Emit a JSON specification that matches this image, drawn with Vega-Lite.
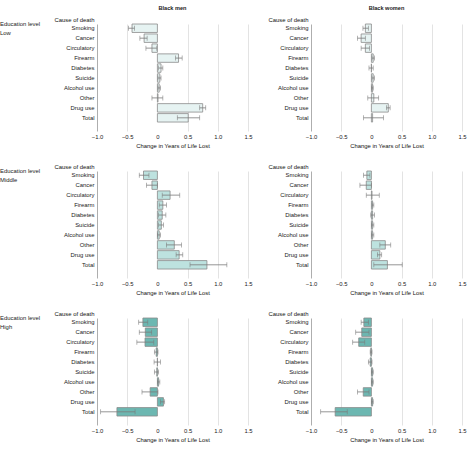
{
  "$schema": "https://vega.github.io/schema/vega-lite/v6.json",
  "padding": {"left": 0, "top": 6, "right": 0, "bottom": 0},
  "background": "white",
  "data": {"values": [
    {"edu":"Low","sex":"Black men","cause":"Smoking","v":-0.42,"lo":-0.48,"hi":-0.38},
    {"edu":"Low","sex":"Black men","cause":"Cancer","v":-0.22,"lo":-0.29,"hi":-0.17},
    {"edu":"Low","sex":"Black men","cause":"Circulatory","v":-0.09,"lo":-0.19,"hi":-0.01},
    {"edu":"Low","sex":"Black men","cause":"Firearm","v":0.35,"lo":0.30,"hi":0.41},
    {"edu":"Low","sex":"Black men","cause":"Diabetes","v":0.06,"lo":0.02,"hi":0.09},
    {"edu":"Low","sex":"Black men","cause":"Suicide","v":0.04,"lo":0.01,"hi":0.06},
    {"edu":"Low","sex":"Black men","cause":"Alcohol use","v":0.03,"lo":0.01,"hi":0.05},
    {"edu":"Low","sex":"Black men","cause":"Other","v":0.01,"lo":-0.09,"hi":0.09},
    {"edu":"Low","sex":"Black men","cause":"Drug use","v":0.75,"lo":0.70,"hi":0.80},
    {"edu":"Low","sex":"Black men","cause":"Total","v":0.51,"lo":0.33,"hi":0.70},
    {"edu":"Low","sex":"Black women","cause":"Smoking","v":-0.10,"lo":-0.14,"hi":-0.05},
    {"edu":"Low","sex":"Black women","cause":"Cancer","v":-0.17,"lo":-0.23,"hi":-0.10},
    {"edu":"Low","sex":"Black women","cause":"Circulatory","v":-0.10,"lo":-0.17,"hi":-0.03},
    {"edu":"Low","sex":"Black women","cause":"Firearm","v":0.03,"lo":0.01,"hi":0.05},
    {"edu":"Low","sex":"Black women","cause":"Diabetes","v":0.0,"lo":-0.04,"hi":0.03},
    {"edu":"Low","sex":"Black women","cause":"Suicide","v":0.03,"lo":0.01,"hi":0.05},
    {"edu":"Low","sex":"Black women","cause":"Alcohol use","v":0.02,"lo":0.0,"hi":0.03},
    {"edu":"Low","sex":"Black women","cause":"Other","v":0.04,"lo":-0.06,"hi":0.12},
    {"edu":"Low","sex":"Black women","cause":"Drug use","v":0.28,"lo":0.25,"hi":0.31},
    {"edu":"Low","sex":"Black women","cause":"Total","v":0.02,"lo":-0.13,"hi":0.20},
    {"edu":"Middle","sex":"Black men","cause":"Smoking","v":-0.23,"lo":-0.30,"hi":-0.14},
    {"edu":"Middle","sex":"Black men","cause":"Cancer","v":-0.09,"lo":-0.18,"hi":0.0},
    {"edu":"Middle","sex":"Black men","cause":"Circulatory","v":0.21,"lo":0.08,"hi":0.37},
    {"edu":"Middle","sex":"Black men","cause":"Firearm","v":0.09,"lo":0.03,"hi":0.15},
    {"edu":"Middle","sex":"Black men","cause":"Diabetes","v":0.08,"lo":0.02,"hi":0.14},
    {"edu":"Middle","sex":"Black men","cause":"Suicide","v":0.065,"lo":0.02,"hi":0.10},
    {"edu":"Middle","sex":"Black men","cause":"Alcohol use","v":0.03,"lo":0.0,"hi":0.05},
    {"edu":"Middle","sex":"Black men","cause":"Other","v":0.28,"lo":0.15,"hi":0.40},
    {"edu":"Middle","sex":"Black men","cause":"Drug use","v":0.36,"lo":0.31,"hi":0.42},
    {"edu":"Middle","sex":"Black men","cause":"Total","v":0.82,"lo":0.54,"hi":1.15},
    {"edu":"Middle","sex":"Black women","cause":"Smoking","v":-0.075,"lo":-0.13,"hi":-0.025},
    {"edu":"Middle","sex":"Black women","cause":"Cancer","v":-0.085,"lo":-0.19,"hi":0.0},
    {"edu":"Middle","sex":"Black women","cause":"Circulatory","v":0.01,"lo":-0.085,"hi":0.13},
    {"edu":"Middle","sex":"Black women","cause":"Firearm","v":0.02,"lo":0.01,"hi":0.04},
    {"edu":"Middle","sex":"Black women","cause":"Diabetes","v":0.02,"lo":-0.01,"hi":0.05},
    {"edu":"Middle","sex":"Black women","cause":"Suicide","v":0.02,"lo":0.0,"hi":0.04},
    {"edu":"Middle","sex":"Black women","cause":"Alcohol use","v":0.02,"lo":0.0,"hi":0.04},
    {"edu":"Middle","sex":"Black women","cause":"Other","v":0.23,"lo":0.14,"hi":0.32},
    {"edu":"Middle","sex":"Black women","cause":"Drug use","v":0.14,"lo":0.10,"hi":0.17},
    {"edu":"Middle","sex":"Black women","cause":"Total","v":0.265,"lo":0.04,"hi":0.51},
    {"edu":"High","sex":"Black men","cause":"Smoking","v":-0.24,"lo":-0.31,"hi":-0.16},
    {"edu":"High","sex":"Black men","cause":"Cancer","v":-0.20,"lo":-0.30,"hi":-0.095},
    {"edu":"High","sex":"Black men","cause":"Circulatory","v":-0.205,"lo":-0.34,"hi":-0.06},
    {"edu":"High","sex":"Black men","cause":"Firearm","v":-0.02,"lo":-0.05,"hi":0.01},
    {"edu":"High","sex":"Black men","cause":"Diabetes","v":0.0,"lo":-0.055,"hi":0.05},
    {"edu":"High","sex":"Black men","cause":"Suicide","v":-0.01,"lo":-0.05,"hi":0.02},
    {"edu":"High","sex":"Black men","cause":"Alcohol use","v":0.02,"lo":0.0,"hi":0.04},
    {"edu":"High","sex":"Black men","cause":"Other","v":-0.12,"lo":-0.255,"hi":0.01},
    {"edu":"High","sex":"Black men","cause":"Drug use","v":0.10,"lo":0.05,"hi":0.12},
    {"edu":"High","sex":"Black men","cause":"Total","v":-0.67,"lo":-0.94,"hi":-0.37},
    {"edu":"High","sex":"Black women","cause":"Smoking","v":-0.125,"lo":-0.17,"hi":-0.05},
    {"edu":"High","sex":"Black women","cause":"Cancer","v":-0.16,"lo":-0.26,"hi":-0.04},
    {"edu":"High","sex":"Black women","cause":"Circulatory","v":-0.21,"lo":-0.31,"hi":-0.11},
    {"edu":"High","sex":"Black women","cause":"Firearm","v":-0.01,"lo":-0.02,"hi":0.01},
    {"edu":"High","sex":"Black women","cause":"Diabetes","v":-0.02,"lo":-0.05,"hi":0.01},
    {"edu":"High","sex":"Black women","cause":"Suicide","v":0.02,"lo":0.0,"hi":0.03},
    {"edu":"High","sex":"Black women","cause":"Alcohol use","v":0.02,"lo":0.0,"hi":0.03},
    {"edu":"High","sex":"Black women","cause":"Other","v":-0.135,"lo":-0.23,"hi":-0.04},
    {"edu":"High","sex":"Black women","cause":"Drug use","v":0.02,"lo":0.0,"hi":0.03},
    {"edu":"High","sex":"Black women","cause":"Total","v":-0.60,"lo":-0.84,"hi":-0.40}
  ]},
  "facet": {
    "row": {"field": "edu", "type": "nominal", "sort": ["Low", "Middle", "High"],
      "header": {"title": null, "labelExpr": "['Education level', datum.value]", "labelAngle": 0, "labelOrient": "left", "labelAnchor": "end", "labelAlign": "left", "labelBaseline": "middle", "labelLineHeight": 9, "labelFontSize": 5.9, "labelColor": "#222", "labelPadding": 14}},
    "column": {"field": "sex", "type": "nominal", "sort": ["Black men", "Black women"],
      "header": {"title": null, "labelFontSize": 5.6, "labelFontWeight": "bold", "labelColor": "#222", "labelPadding": 4}}
  },
  "spacing": {"row": 14, "column": 15},
  "resolve": {"axis": {"x": "independent", "y": "independent"}},
  "spec": {
    "width": 151,
    "height": 107,
    "encoding": {
      "y": {"field": "cause", "type": "nominal",
        "sort": ["Smoking", "Cancer", "Circulatory", "Firearm", "Diabetes", "Suicide", "Alcohol use", "Other", "Drug use", "Total"],
        "scale": {"paddingInner": 0.15, "paddingOuter": 0.45, "align": 0},
        "axis": {"title": "Cause of death"}}
    },
    "layer": [
      {"mark": {"type": "bar", "stroke": "#8a8a8a", "strokeWidth": 0.8},
        "encoding": {
          "x": {"field": "v", "type": "quantitative",
            "scale": {"domain": [-1, 1.5], "nice": false, "zero": false},
            "axis": {"title": "Change in Years of Life Lost", "gridOpacity": {"condition": {"test": "datum.value === 0 || datum.value === -1", "value": 0}, "value": 1}}},
          "color": {"field": "edu", "type": "nominal", "scale": {"domain": ["Low", "Middle", "High"], "range": ["#e6f3f2", "#bde2df", "#6cb7b1"]}, "legend": null}
        }},
      {"mark": {"type": "rule", "color": "#7a7a7a", "strokeWidth": 0.8},
        "encoding": {"x": {"field": "lo", "type": "quantitative"}, "x2": {"field": "hi"}}},
      {"mark": {"type": "tick", "orient": "vertical", "color": "#7a7a7a", "thickness": 0.8, "size": 5},
        "encoding": {"x": {"field": "lo", "type": "quantitative"}}},
      {"mark": {"type": "tick", "orient": "vertical", "color": "#7a7a7a", "thickness": 0.8, "size": 5},
        "encoding": {"x": {"field": "hi", "type": "quantitative"}}}
    ]
  },
  "config": {
    "font": "Liberation Sans",
    "view": {"stroke": null},
    "axisX": {"titleFontSize": 5.9, "titleFontWeight": "normal", "titleColor": "#111", "titlePadding": 4, "values": [-1, -0.5, 0, 0.5, 1, 1.5], "labelExpr": "datum.value == 0 ? '0' : format(datum.value, '.1f')", "labelOverlap": false, "labelFlush": false, "labelFontSize": 5.9, "labelColor": "#222", "labelPadding": 2, "ticks": false, "domain": false, "grid": true, "gridColor": "#dcdcdc", "gridWidth": 0.8},
    "axisY": {"titleAngle": 0, "titleAlign": "right", "titleBaseline": "middle", "titleX": -3, "titleY": -4.5, "titleFontSize": 5.9, "titleFontWeight": "normal", "titleColor": "#111", "labelFontSize": 5.9, "labelColor": "#222", "labelPadding": 3, "ticks": false, "domainColor": "#999", "domainWidth": 0.8, "grid": false}
  }
}
